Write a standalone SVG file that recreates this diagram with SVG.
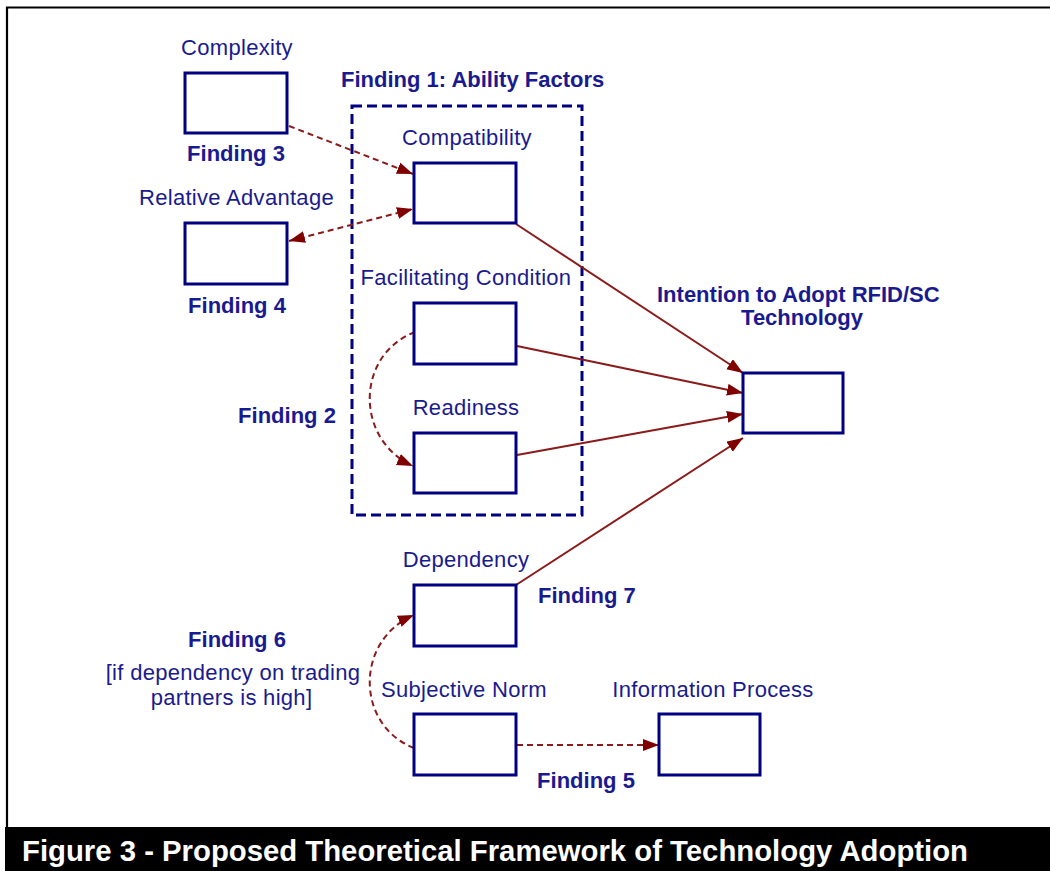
<svg xmlns="http://www.w3.org/2000/svg" width="1050" height="871" viewBox="0 0 1050 871">
  <style>
    .box { fill: #ffffff; stroke: #000080; stroke-width: 3; }
    .lbl { font-family: "Liberation Sans", Arial, sans-serif; font-size: 22px; letter-spacing: 0.3px; fill: #1a1a90; }
    .bold { font-family: "Liberation Sans", Arial, sans-serif; font-size: 22px; font-weight: bold; fill: #1a1a90; }
    .mid { text-anchor: middle; }
    .conn { fill: none; stroke: #8b1a1a; stroke-width: 2; }
    .dash { stroke-dasharray: 6 4; }
  </style>
  <defs>
    <marker id="arr" markerUnits="userSpaceOnUse" markerWidth="18" markerHeight="14" refX="16" refY="6" orient="auto-start-reverse">
      <path d="M0,0 L16,6 L0,12 z" fill="#800000"/>
    </marker>
  </defs>
  <rect width="1050" height="871" fill="#ffffff"/>
  <g id="frame">
    <path d="M7,827 L7,7.5 L1050,7.5" fill="none" stroke="#000000" stroke-width="2.2"/>
    <rect x="5" y="827" width="1045" height="44" fill="#000000"/>
    <text x="22" y="861" font-family="Liberation Sans, Arial, sans-serif" font-size="30" font-weight="bold" fill="#ffffff" textLength="946" lengthAdjust="spacingAndGlyphs">Figure 3 - Proposed Theoretical Framework of Technology Adoption</text>
  </g>
  <g id="ability-factors">
    <rect x="352" y="106" width="230" height="409" fill="none" stroke="#000080" stroke-width="3" stroke-dasharray="10 5"/>
    <text class="bold" x="341" y="87">Finding 1: Ability Factors</text>
  </g>
  <g id="connectors">
    <line class="conn dash" x1="289" y1="126" x2="413" y2="174" marker-end="url(#arr)"/>
    <line class="conn dash" x1="289" y1="241" x2="413" y2="209" marker-start="url(#arr)" marker-end="url(#arr)"/>
    <line class="conn" x1="516" y1="224" x2="743" y2="373" stroke-width="1.6" marker-end="url(#arr)"/>
    <line class="conn" x1="517" y1="346" x2="743" y2="393" stroke-width="1.6" marker-end="url(#arr)"/>
    <line class="conn" x1="517" y1="455" x2="743" y2="414" stroke-width="1.6" marker-end="url(#arr)"/>
    <line class="conn" x1="516" y1="585" x2="743" y2="438" stroke-width="1.6" marker-end="url(#arr)"/>
    <path class="conn dash" d="M415,332 C355,355 355,440 413,466" marker-end="url(#arr)"/>
    <path class="conn dash" d="M414,748 C355,725 355,640 414,615" marker-end="url(#arr)"/>
    <line class="conn dash" x1="517" y1="745" x2="659" y2="745" marker-end="url(#arr)"/>
  </g>
  <g id="complexity">
    <rect class="box" x="185" y="73" width="102" height="60"/>
    <text class="lbl mid" x="237" y="55">Complexity</text>
    <text class="bold mid" x="236" y="161">Finding 3</text>
  </g>
  <g id="relative-advantage">
    <rect class="box" x="185" y="223" width="102" height="61"/>
    <text class="lbl mid" x="236.5" y="205">Relative Advantage</text>
    <text class="bold mid" x="237" y="313">Finding 4</text>
  </g>
  <g id="compatibility">
    <rect class="box" x="414" y="163" width="102" height="60"/>
    <text class="lbl mid" x="467" y="145">Compatibility</text>
  </g>
  <g id="facilitating-condition">
    <rect class="box" x="414" y="303" width="102" height="61"/>
    <text class="lbl mid" x="466" y="285">Facilitating Condition</text>
  </g>
  <g id="readiness">
    <rect class="box" x="414" y="433" width="102" height="60"/>
    <text class="lbl mid" x="466" y="415">Readiness</text>
    <text class="bold mid" x="287" y="423">Finding 2</text>
  </g>
  <g id="intention">
    <rect class="box" x="743" y="373" width="100" height="60"/>
    <text class="bold" x="657" y="302">Intention to Adopt RFID/SC</text>
    <text class="bold mid" x="802" y="325">Technology</text>
  </g>
  <g id="dependency">
    <rect class="box" x="414" y="585" width="102" height="61"/>
    <text class="lbl mid" x="466" y="567">Dependency</text>
    <text class="bold" x="538" y="603">Finding 7</text>
  </g>
  <g id="finding6">
    <text class="bold mid" x="237" y="647">Finding 6</text>
    <text class="lbl mid" x="233" y="680">[if dependency on trading</text>
    <text class="lbl mid" x="231.5" y="705">partners is high]</text>
  </g>
  <g id="subjective-norm">
    <rect class="box" x="414" y="714" width="102" height="61"/>
    <text class="lbl mid" x="464" y="697">Subjective Norm</text>
    <text class="bold mid" x="586" y="788">Finding 5</text>
  </g>
  <g id="information-process">
    <rect class="box" x="659" y="714" width="101" height="61"/>
    <text class="lbl mid" x="713" y="697">Information Process</text>
  </g>
</svg>
